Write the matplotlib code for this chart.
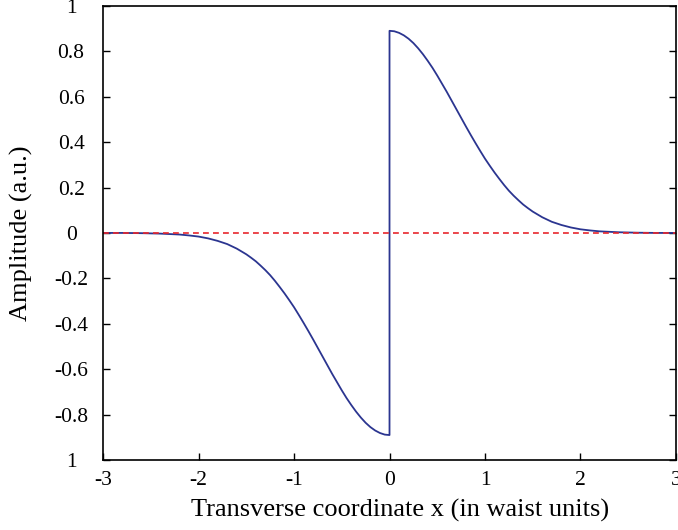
import matplotlib
matplotlib.use("Agg")
import matplotlib.pyplot as plt

# amplitude profile (right half; left half is the mirrored negative)
x_pos = [0.0, 0.05, 0.1, 0.15, 0.2, 0.25, 0.3, 0.35, 0.4, 0.45, 0.5, 0.55, 0.6, 0.65,
         0.7, 0.75, 0.8, 0.85, 0.9, 0.95, 1.0, 1.05, 1.1, 1.15, 1.2, 1.25, 1.3, 1.35,
         1.4, 1.45, 1.5, 1.6, 1.7, 1.8, 1.9, 2.0, 2.1, 2.2, 2.4, 2.6, 2.8, 3.0]
amp_pos = [0.890, 0.888, 0.881, 0.870, 0.855, 0.836, 0.813, 0.787, 0.758, 0.727,
           0.693, 0.657, 0.621, 0.583, 0.545, 0.507, 0.469, 0.432, 0.396, 0.361,
           0.327, 0.296, 0.266, 0.238, 0.211, 0.186, 0.164, 0.144, 0.125, 0.109,
           0.094, 0.069, 0.049, 0.035, 0.024, 0.016, 0.011, 0.007, 0.003, 0.001,
           0.0, 0.0]

x_neg = [-v for v in reversed(x_pos)]
amp_neg = [-v for v in reversed(amp_pos)]

x_ticks = [-3, -2, -1, 0, 1, 2, 3]
x_labels = ["-3", "-2", "-1", "0", "1", "2", "3"]
y_ticks = [-1, -0.8, -0.6, -0.4, -0.2, 0, 0.2, 0.4, 0.6, 0.8, 1]
y_labels = ["1", "-0.8", "-0.6", "-0.4", "-0.2", "0", "0.2", "0.4", "0.6", "0.8", "1"]

plt.rcParams["font.family"] = ["Liberation Serif", "DejaVu Serif"]

fig = plt.figure(figsize=(6.78, 5.30), dpi=100)
ax = fig.add_axes([0.152, 0.132, 0.845, 0.857])

ax.plot(x_neg + x_pos, amp_neg + amp_pos, color="#2b3590", lw=1.3)
ax.plot([-3, 3], [0, 0], color="#e8262c", lw=1.2, ls=(0, (3.5, 2.5)))

ax.set_xlim(-3, 3)
ax.set_ylim(-1, 1)
ax.set_xticks(x_ticks)
ax.set_xticklabels(x_labels)
ax.set_yticks(y_ticks)
ax.set_yticklabels(y_labels, ha="center")
ax.tick_params(direction="in", length=5, width=1, labelsize=15.5,
               left=True, right=True, top=False, bottom=True)
ax.tick_params(axis="x", pad=8)
ax.tick_params(axis="y", pad=23)
for s in ax.spines.values():
    s.set_linewidth(1.2)

ax.set_xlabel("Transverse coordinate x (in waist units)", fontsize=19)
ax.set_ylabel("Amplitude (a.u.)", fontsize=19)
ax.xaxis.set_label_coords(0.519, -0.086)
ax.yaxis.set_label_coords(-0.122, 0.5)

fig.savefig("out.png", dpi=100)
